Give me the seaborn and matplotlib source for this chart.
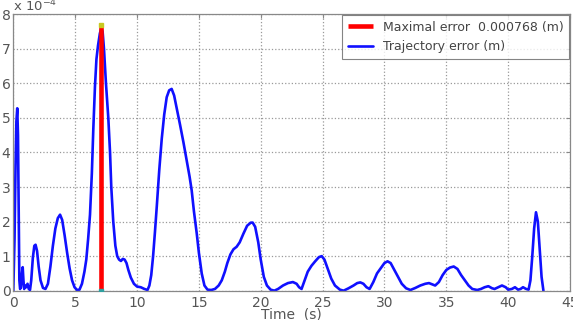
import numpy as np
import pandas as pd
import seaborn as sns
import matplotlib.pyplot as plt

# Trajectory error, values in units of 1e-4 m
time_s = [0.00, 0.10, 0.18, 0.25, 0.32, 0.38, 0.43, 0.49, 0.55, 0.62, 0.70, 0.76, 0.82, 0.88,
          0.95, 1.05, 1.15, 1.25, 1.35, 1.45, 1.58, 1.70, 1.80, 1.92, 2.05, 2.20, 2.40, 2.60,
          2.80, 3.00, 3.20, 3.40, 3.60, 3.78, 3.95, 4.15, 4.35, 4.55, 4.75, 4.95, 5.15, 5.35,
          5.55, 5.75, 5.90, 6.05, 6.20, 6.35, 6.47, 6.60, 6.72, 6.85, 7.00, 7.12, 7.22, 7.33,
          7.49, 7.68, 7.82, 7.92, 8.08, 8.25, 8.40, 8.55, 8.70, 8.85, 9.00, 9.15, 9.30, 9.50,
          9.75, 10.00, 10.30, 10.60, 10.85, 11.00, 11.15, 11.30, 11.45, 11.60, 11.80, 12.00,
          12.20, 12.40, 12.60, 12.80, 13.00, 13.20, 13.48, 13.75, 14.02, 14.25, 14.42, 14.60,
          14.83, 15.00, 15.23, 15.45, 15.70, 16.00, 16.30, 16.60, 16.85, 17.10, 17.30, 17.55,
          17.80, 18.05, 18.30, 18.60, 18.90, 19.20, 19.35, 19.55, 19.80, 20.00, 20.25, 20.50,
          20.80, 21.10, 21.40, 21.80, 22.20, 22.60, 22.90, 23.10, 23.30, 23.55, 23.80, 24.10,
          24.40, 24.70, 24.93, 25.15, 25.40, 25.70, 26.00, 26.40, 26.70, 27.10, 27.50, 27.80,
          28.05, 28.30, 28.55, 28.80, 29.10, 29.40, 29.70, 30.00, 30.25, 30.50, 30.80, 31.10,
          31.40, 31.75, 32.10, 32.50, 32.90, 33.30, 33.60, 33.90, 34.10, 34.40, 34.70, 35.00,
          35.30, 35.60, 35.90, 36.20, 36.50, 36.80, 37.10, 37.50, 37.80, 38.10, 38.40, 38.70,
          38.90, 39.20, 39.50, 39.80, 40.00, 40.30, 40.55, 40.80, 41.00, 41.20, 41.45, 41.65,
          41.80, 41.95, 42.10, 42.25, 42.40, 42.55, 42.70, 42.85]
error_e4 = [0.00, 1.50, 3.60, 4.90, 5.28, 4.50, 2.50, 0.30, 0.05, 0.10, 0.50, 0.68, 0.30, 0.05,
            0.15, 0.10, 0.20, 0.05, 0.02, 0.30, 0.95, 1.30, 1.33, 1.15, 0.70, 0.30, 0.08, 0.05,
            0.20, 0.70, 1.30, 1.80, 2.10, 2.20, 2.05, 1.60, 1.10, 0.65, 0.30, 0.10, 0.02, 0.03,
            0.20, 0.55, 0.90, 1.50, 2.20, 3.40, 4.70, 5.90, 6.70, 7.10, 7.45, 7.60, 7.50, 7.00,
            6.00, 5.00, 4.00, 3.00, 2.00, 1.30, 1.00, 0.90, 0.86, 0.92, 0.90, 0.80, 0.60, 0.38,
            0.20, 0.12, 0.10, 0.05, 0.02, 0.15, 0.45, 1.00, 1.70, 2.45, 3.50, 4.40,
            5.10, 5.60, 5.80, 5.84, 5.65, 5.30, 4.80, 4.30, 3.75, 3.30, 2.90, 2.30,
            1.65, 1.10, 0.50, 0.15, 0.03, 0.02, 0.05, 0.15, 0.30, 0.55, 0.80, 1.05,
            1.20, 1.27, 1.40, 1.65, 1.88, 1.97, 1.97, 1.85, 1.40, 0.90, 0.40, 0.15,
            0.03, 0.00, 0.05, 0.15, 0.22, 0.25, 0.20, 0.10, 0.05, 0.30, 0.55, 0.72,
            0.85, 0.97, 1.00, 0.90, 0.65, 0.35, 0.15, 0.03, 0.00, 0.07, 0.15, 0.22,
            0.24, 0.20, 0.10, 0.05, 0.25, 0.50, 0.65, 0.80, 0.85, 0.80, 0.60, 0.40,
            0.20, 0.07, 0.02, 0.08, 0.15, 0.20, 0.22, 0.18, 0.15, 0.25, 0.45, 0.60,
            0.67, 0.70, 0.63, 0.45, 0.30, 0.15, 0.05, 0.02, 0.05, 0.10, 0.13, 0.07,
            0.05, 0.10, 0.15, 0.10, 0.03, 0.05, 0.10, 0.03, 0.05, 0.10, 0.05, 0.03,
            0.30, 1.00, 1.80, 2.27, 2.00, 1.20, 0.40, 0.00]

max_time = 7.12
max_error = 7.68  # 0.000768 m
max_label = "Maximal error  0.000768 (m)"
traj_label = "Trajectory error (m)"

df = pd.DataFrame({"time": time_s, "error": error_e4})

sns.set_style("white")
plt.rcParams['font.family'] = ['DejaVu Sans']

fig = plt.figure(figsize=(5.73, 3.2), dpi=100)
ax = fig.add_axes([0.0232, 0.0916, 0.9716, 0.8637])

# maximal error bar
ax.plot([max_time, max_time], [0, max_error], color="#ff0000", lw=3.3,
        label=max_label, zorder=3, solid_capstyle="butt")
ax.plot([max_time], [max_error], marker="s", ms=2.5, color="#c8c820", zorder=4)
ax.plot([max_time], [0], marker="s", ms=2.5, color="#30a0a0", zorder=4)

sns.lineplot(data=df, x="time", y="error", ax=ax, color="#1010ff", lw=1.9,
             label=traj_label, zorder=2)

ax.set_xlim(0, 45)
ax.set_ylim(0, 8)
ax.set_xticks(range(0, 46, 5))
ax.set_yticks(range(0, 9))
ax.grid(True, linestyle=":", color="#999999", lw=0.9)
for s in ax.spines.values():
    s.set_color("#888888")
    s.set_linewidth(0.9)
ax.tick_params(direction="in", length=3, color="#888888", labelcolor="#555555",
               labelsize=10, top=True, right=True)
ax.tick_params(axis="x", pad=4)
ax.tick_params(axis="y", pad=2)
ax.set_xlabel("Time  (s)", color="#555555", fontsize=10, labelpad=-2)
ax.set_ylabel("")
ax.text(0.0, 1.0, r"x 10$^{-4}$", transform=ax.transAxes, fontsize=9.5,
        color="#555555", ha="left", va="bottom")

leg = ax.legend(loc="upper right", fontsize=9, frameon=True, fancybox=False,
                borderaxespad=0.05, handlelength=2.0, labelspacing=0.55,
                borderpad=0.45)
leg.get_frame().set_edgecolor("#666666")
leg.get_frame().set_linewidth(0.8)
for t in leg.get_texts():
    t.set_color("#444444")

fig.savefig("out.png", dpi=100)
